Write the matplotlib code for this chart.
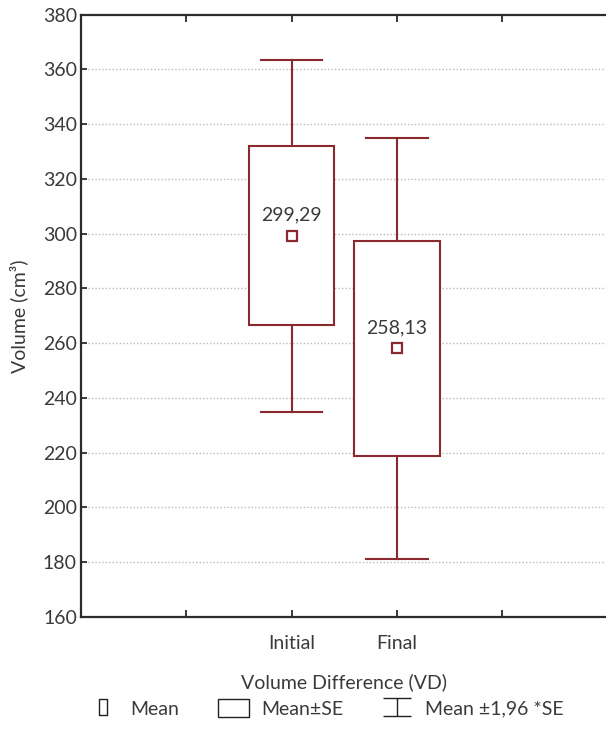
import matplotlib
matplotlib.use('Agg')
import matplotlib.pyplot as plt
from matplotlib.lines import Line2D
from matplotlib.patches import Rectangle
from matplotlib.path import Path

plt.rcParams['font.family'] = ['Lato', 'DejaVu Sans']

# data
groups = ['Initial', 'Final']
means = [299.29, 258.13]
se = [32.8, 39.2]
mean_labels = ['299,29', '258,13']
positions = [2, 3]

red = '#8b2a2e'
dark = '#2b2b2b'
txt = '#3a3a3a'
fs = 14

fig = plt.figure(figsize=(6.06, 7.44), dpi=100)
ax = fig.add_axes([0.1337, 0.1707, 0.869, 0.8095])

box_w = 0.81
cap_w = 0.58
for x, m, s, lab in zip(positions, means, se, mean_labels):
    lo, hi = m - s, m + s
    wlo, whi = m - 1.96 * s, m + 1.96 * s
    # whiskers
    ax.plot([x, x], [hi, whi], color=red, lw=1.5, zorder=2)
    ax.plot([x, x], [wlo, lo], color=red, lw=1.5, zorder=2)
    ax.plot([x - cap_w / 2, x + cap_w / 2], [whi, whi], color=red, lw=1.5, zorder=2)
    ax.plot([x - cap_w / 2, x + cap_w / 2], [wlo, wlo], color=red, lw=1.5, zorder=2)
    # SE box
    ax.add_patch(Rectangle((x - box_w / 2, lo), box_w, hi - lo, facecolor='white',
                           edgecolor=red, lw=1.5, zorder=3))
    # mean
    ax.plot(x, m, marker='s', ms=6.5, mfc='white', mec=red, mew=1.6, zorder=4)
    ax.text(x, m + 4.5, lab, ha='center', va='bottom', fontsize=fs,
            color=txt, zorder=5)

ax.set_xlim(0, 5)
ax.set_ylim(160, 380)
ax.set_yticks(range(160, 381, 20))
ax.set_xticks([1, 2, 3, 4])
ax.set_xticklabels(['', 'Initial', 'Final', ''])

for yv in range(180, 380, 20):
    ax.axhline(yv, color='#bbbbbb', lw=1.0, ls=(0, (1, 1.5)), zorder=1)

for sp in ax.spines.values():
    sp.set_linewidth(1.6)
    sp.set_color(dark)

ax.tick_params(axis='y', direction='in', length=4, width=1.3, pad=3,
               labelsize=fs, labelcolor=txt, colors=dark)
ax.tick_params(axis='x', direction='in', length=5, width=1.3, pad=13,
               labelsize=fs, labelcolor=txt, top=True, colors=dark)
for t in ax.get_yticklabels() + ax.get_xticklabels():
    t.set_color(txt)

ax.set_xlabel('Volume Difference (VD)', fontsize=fs, color=txt)
ax.set_ylabel('Volume (cm³)', fontsize=fs, color=txt)
ax.xaxis.set_label_coords((344 - 81) / (607.5 - 81), -0.093)
ax.yaxis.set_label_coords(-0.10, 0.5)

# legend
ibeam = Path([(-1.5, 1), (1.5, 1), (0, 1), (0, -1), (-1.5, -1), (1.5, -1)],
             [Path.MOVETO, Path.LINETO, Path.MOVETO, Path.LINETO, Path.MOVETO, Path.LINETO])
thin = Path([(-0.45, -1), (0.45, -1), (0.45, 1), (-0.45, 1), (-0.45, -1)],
            [Path.MOVETO, Path.LINETO, Path.LINETO, Path.LINETO, Path.CLOSEPOLY])
handles = [
    Line2D([], [], ls='none', marker=thin, ms=12, mfc='white', mec='#222222', mew=1.0),
    Rectangle((0, 0), 1, 1, facecolor='white', edgecolor='#222222', lw=1.0),
    Line2D([], [], ls='none', marker=ibeam, ms=20, mec='#222222', mew=1.0),
]
leg = fig.legend(handles, ['Mean', 'Mean±SE', 'Mean ±1,96 *SE'], loc='lower center',
                 bbox_to_anchor=(0.537, 0.012), ncol=3, frameon=False, fontsize=fs,
                 handlelength=1.6, handleheight=1.1, columnspacing=2.0, handletextpad=0.6)
for t in leg.get_texts():
    t.set_color(txt)

fig.savefig('out.png', dpi=100)
